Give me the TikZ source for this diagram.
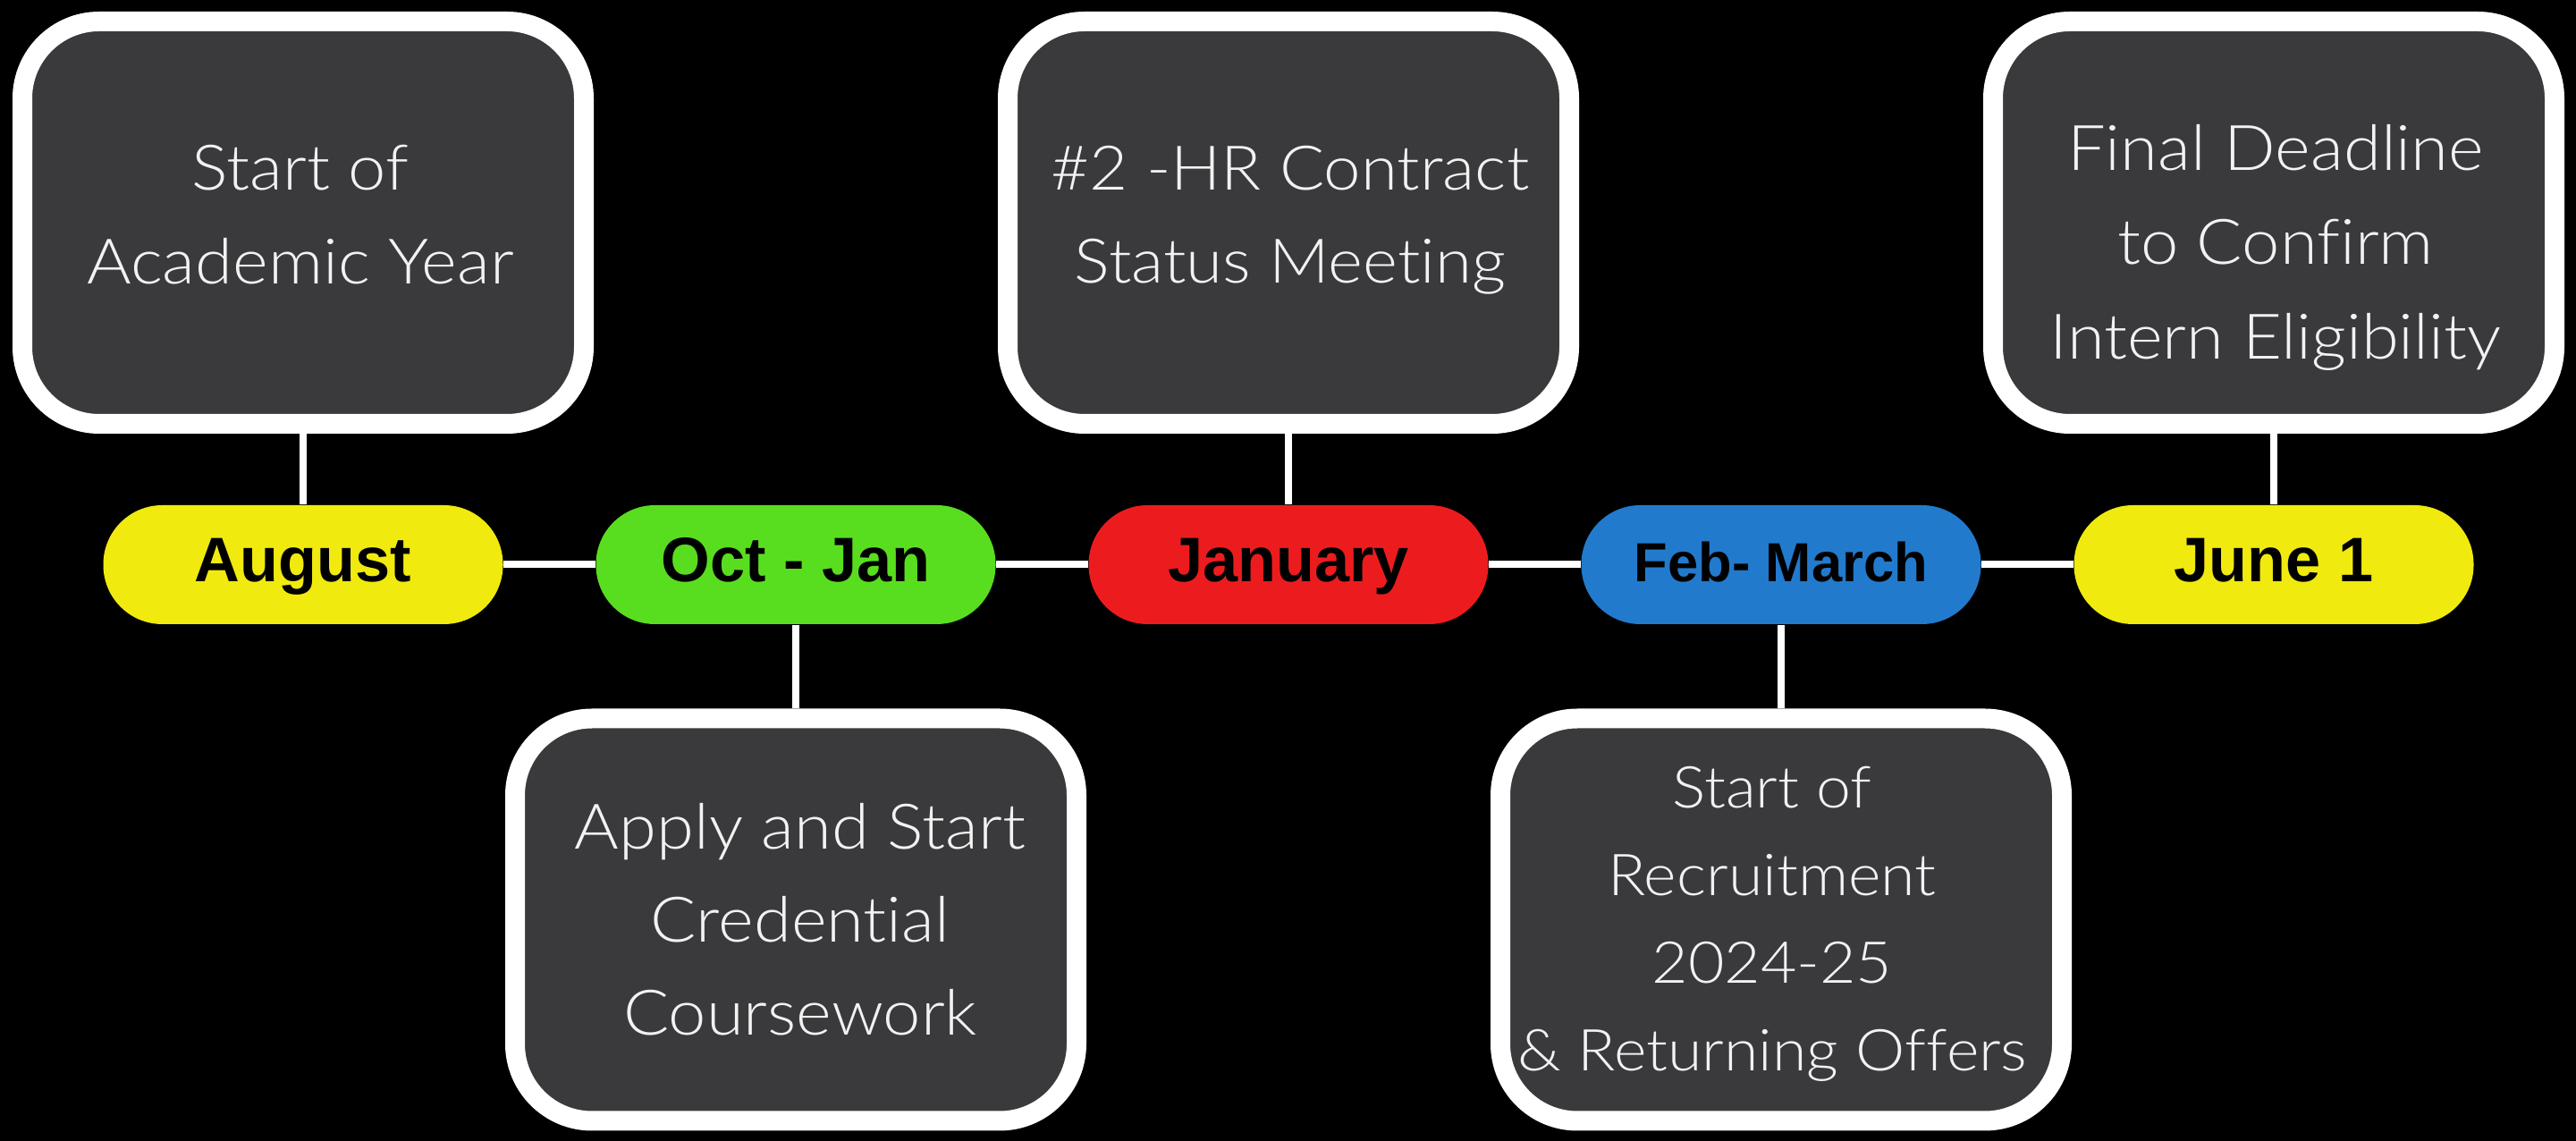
\documentclass[tikz,border=0pt]{standalone}
\usepackage{fontspec}
\newfontfamily\boxfont{Lato Light}[FakeStretch=1.08,Ligatures=NoCommon]
\newfontfamily\pillfont{Liberation Sans}
\definecolor{boxgray}{RGB}{58,58,60}
\definecolor{pyellow}{RGB}{240,234,14}
\definecolor{pgreen}{RGB}{88,222,30}
\definecolor{pred}{RGB}{236,28,30}
\definecolor{pblue}{RGB}{34,122,204}
\definecolor{textwhite}{RGB}{242,242,242}
\newcommand\evstrut{\rule[-0.5\baselineskip]{0pt}{\baselineskip}}
\begin{document}
\begin{tikzpicture}[
  evbox/.style={draw=white, line width=2.2mm, fill=boxgray, rounded corners=8.6mm,
    minimum width=62.8mm, minimum height=45mm, inner sep=0pt},
  pill/.style={rounded corners=6.6mm, minimum width=44.7mm, minimum height=13.3mm,
    inner sep=0pt, text height=3.9mm, text depth=0mm, text=black,
    font=\pillfont\bfseries\fontsize{20}{24}\selectfont},
  conn/.style={draw=white, line width=0.8mm},
  boxtext/.style={text=textwhite, align=center, inner sep=0pt,
    font=\boxfont\fontsize{20}{29.6}\selectfont}
]
\fill[black] (0,0) rectangle (28.81,12.76);
\useasboundingbox (0,0) rectangle (28.81,12.76);

% top boxes
\node[evbox] (bA) at (3.39,10.27) {};
\node[evbox] (bC) at (14.41,10.27) {};
\node[evbox] (bE) at (25.43,10.27) {};
% bottom boxes
\node[evbox] (bB) at (8.90,2.475) {};
\node[evbox] (bD) at (19.92,2.475) {};

% pills
\node[pill, fill=pyellow] (pA) at (3.39,6.445) {August};
\node[pill, fill=pgreen]  (pB) at (8.90,6.445) {Oct - Jan};
\node[pill, fill=pred]    (pC) at (14.41,6.445) {January};
\node[pill, fill=pblue, font=\pillfont\bfseries\fontsize{17.5}{21}\selectfont] (pD) at (19.92,6.445) {Feb- March};
\node[pill, fill=pyellow] (pE) at (25.43,6.445) {June 1};

% connectors
\draw[conn] (pA.east) -- (pB.west);
\draw[conn] (pB.east) -- (pC.west);
\draw[conn] (pC.east) -- (pD.west);
\draw[conn] (pD.east) -- (pE.west);
\draw[conn] (bA.south) -- (pA.north);
\draw[conn] (bC.south) -- (pC.north);
\draw[conn] (bE.south) -- (pE.north);
\draw[conn] (pB.south) -- (bB.north);
\draw[conn] (pD.south) -- (bD.north);

% texts
\node[boxtext] (tA) at (3.36,10.11) {\evstrut Start of\\\evstrut Academic Year};
\node[boxtext, font=\boxfont\fontsize{19.6}{29.6}\selectfont] (tC) at (14.43,10.115) {\evstrut\#2 -HR Contract\\\evstrut Status Meeting};
\node[boxtext, font=\boxfont\fontsize{20}{29.88}\selectfont] (tE) at (25.45,9.80)
  {\evstrut Final Deadline\\\evstrut to Confirm\\\evstrut Intern Eligibility};
\node[boxtext, font=\boxfont\fontsize{20}{29.46}\selectfont] (tB) at (8.95,2.225)
  {\evstrut Apply and Start\\\evstrut Credential\\\evstrut Coursework};
\node[boxtext, font=\boxfont\fontsize{18.4}{27.9}\selectfont] (tD) at (19.82,2.255)
  {\evstrut Start of\\\evstrut Recruitment\\\evstrut 2024-25\\\evstrut\& Returning Offers};
\end{tikzpicture}
\end{document}
